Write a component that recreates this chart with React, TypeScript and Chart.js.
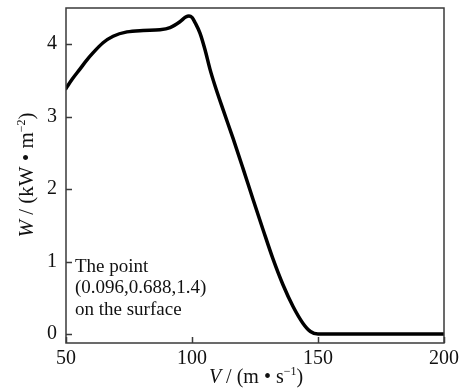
import React, { useEffect, useRef } from "react";
import { Chart, registerables } from "chart.js";

Chart.register(...registerables);

const speedV = [50, 52.5, 55.6, 58, 60.7, 64.7, 68.7, 74.2, 80.6, 87.3, 91.3, 95.2, 97.5, 98.8, 100, 101.2, 103.2, 105.2, 107.1, 109.1, 112.3, 116.3, 120.2, 124.2, 128.2, 132.1, 136.1, 140.1, 144, 147, 150, 175, 200];
const powerW = [3.39, 3.52, 3.66, 3.77, 3.88, 4.02, 4.11, 4.17, 4.19, 4.2, 4.23, 4.31, 4.375, 4.39, 4.37, 4.3, 4.15, 3.92, 3.66, 3.43, 3.1, 2.7, 2.29, 1.86, 1.44, 1.04, 0.68, 0.38, 0.15, 0.035, 0, 0, 0];
const xTicks = [50, 100, 150, 200];
const yTicks = [0, 1, 2, 3, 4];
const noteLines = ["The point", "(0.096,0.688,1.4)", "on the surface"];

const SERIF = '"Liberation Serif", "Times New Roman", serif';

const decorPlugin = {
  id: "decor",
  afterDraw(chart: any) {
    const { ctx, chartArea: a, scales } = chart;
    const xs = scales.x, ys = scales.y;
    ctx.save();
    ctx.strokeStyle = "#3a3a3a";
    ctx.lineWidth = 1.5;
    ctx.strokeRect(a.left, a.top, a.right - a.left, a.bottom - a.top);
    ctx.beginPath();
    yTicks.forEach((v) => {
      const y = Math.round(ys.getPixelForValue(v)) + 0.5;
      ctx.moveTo(a.left, y);
      ctx.lineTo(a.left + 6, y);
    });
    xTicks.forEach((v) => {
      const x = Math.round(xs.getPixelForValue(v)) + 0.5;
      ctx.moveTo(x, a.bottom);
      ctx.lineTo(x, a.bottom - 6);
    });
    ctx.stroke();

    ctx.fillStyle = "#111";
    ctx.font = `19px ${SERIF}`;
    ctx.textAlign = "left";
    ctx.textBaseline = "middle";
    noteLines.forEach((t, i) => ctx.fillText(t, a.left + 9, 267 + i * 21.5));

    const drawPieces = (pieces: { t: string; italic?: boolean; sup?: boolean }[], cx: number, cy: number, size: number) => {
      const widths = pieces.map((p) => {
        ctx.font = `${p.italic ? "italic " : ""}${p.sup ? 12 : size}px ${SERIF}`;
        return ctx.measureText(p.t).width;
      });
      const total = widths.reduce((s, w) => s + w, 0);
      let x = cx - total / 2;
      pieces.forEach((p, i) => {
        ctx.font = `${p.italic ? "italic " : ""}${p.sup ? 12 : size}px ${SERIF}`;
        ctx.textAlign = "left";
        ctx.textBaseline = "alphabetic";
        ctx.fillText(p.t, x, cy + (p.sup ? -8 : 0));
        x += widths[i];
      });
    };
    drawPieces(
      [
        { t: "V", italic: true },
        { t: " / (m • s" },
        { t: "−1", sup: true },
        { t: ")" },
      ],
      256,
      383,
      20
    );
    ctx.save();
    ctx.translate(33, 175);
    ctx.rotate(-Math.PI / 2);
    drawPieces(
      [
        { t: "W", italic: true },
        { t: " / (kW • m" },
        { t: "−2", sup: true },
        { t: ")" },
      ],
      0,
      0,
      21
    );
    ctx.restore();
    ctx.restore();
  },
};

export default function App() {
  const ref = useRef<HTMLCanvasElement | null>(null);
  useEffect(() => {
    if (!ref.current) return;
    const chart = new Chart(ref.current, {
      type: "line",
      data: {
        datasets: [
          {
            data: speedV.map((v, i) => ({ x: v, y: powerW[i] })),
            borderColor: "#000",
            borderWidth: 3.5,
            borderCapStyle: "round",
            borderJoinStyle: "round",
            pointRadius: 0,
            cubicInterpolationMode: "monotone",
            fill: false,
          },
        ],
      },
      options: {
        animation: false,
        responsive: false,
        maintainAspectRatio: false,
        layout: { padding: { top: 8, right: 18, left: 0, bottom: 0 } },
        plugins: { legend: { display: false }, tooltip: { enabled: false } },
        scales: {
          x: {
            type: "linear",
            min: 50,
            max: 200,
            grid: { display: false, drawTicks: false },
            border: { display: false },
            afterBuildTicks: (s: any) => {
              s.ticks = xTicks.map((v) => ({ value: v }));
            },
            afterFit: (s: any) => {
              s.height = 45;
              s.paddingLeft = 0;
              s.paddingRight = 0;
            },
            ticks: {
              color: "#111",
              padding: 4,
              maxRotation: 0,
              font: { family: SERIF, size: 20 },
            },
          },
          y: {
            type: "linear",
            min: -0.124,
            max: 4.5,
            grid: { display: false, drawTicks: false },
            border: { display: false },
            afterBuildTicks: (s: any) => {
              s.ticks = yTicks.map((v) => ({ value: v }));
            },
            afterFit: (s: any) => {
              s.width = 66;
              s.paddingTop = 0;
              s.paddingBottom = 0;
            },
            ticks: {
              color: "#111",
              padding: 9,
              font: { family: SERIF, size: 20 },
            },
          },
        },
      },
      plugins: [decorPlugin],
    } as any);
    return () => chart.destroy();
  }, []);
  return (
    <div style={{ position: "fixed", left: 0, top: 0, width: 462, height: 388, background: "#fff" }}>
      <canvas ref={ref} width={462} height={388} style={{ width: 462, height: 388 }} />
    </div>
  );
}
